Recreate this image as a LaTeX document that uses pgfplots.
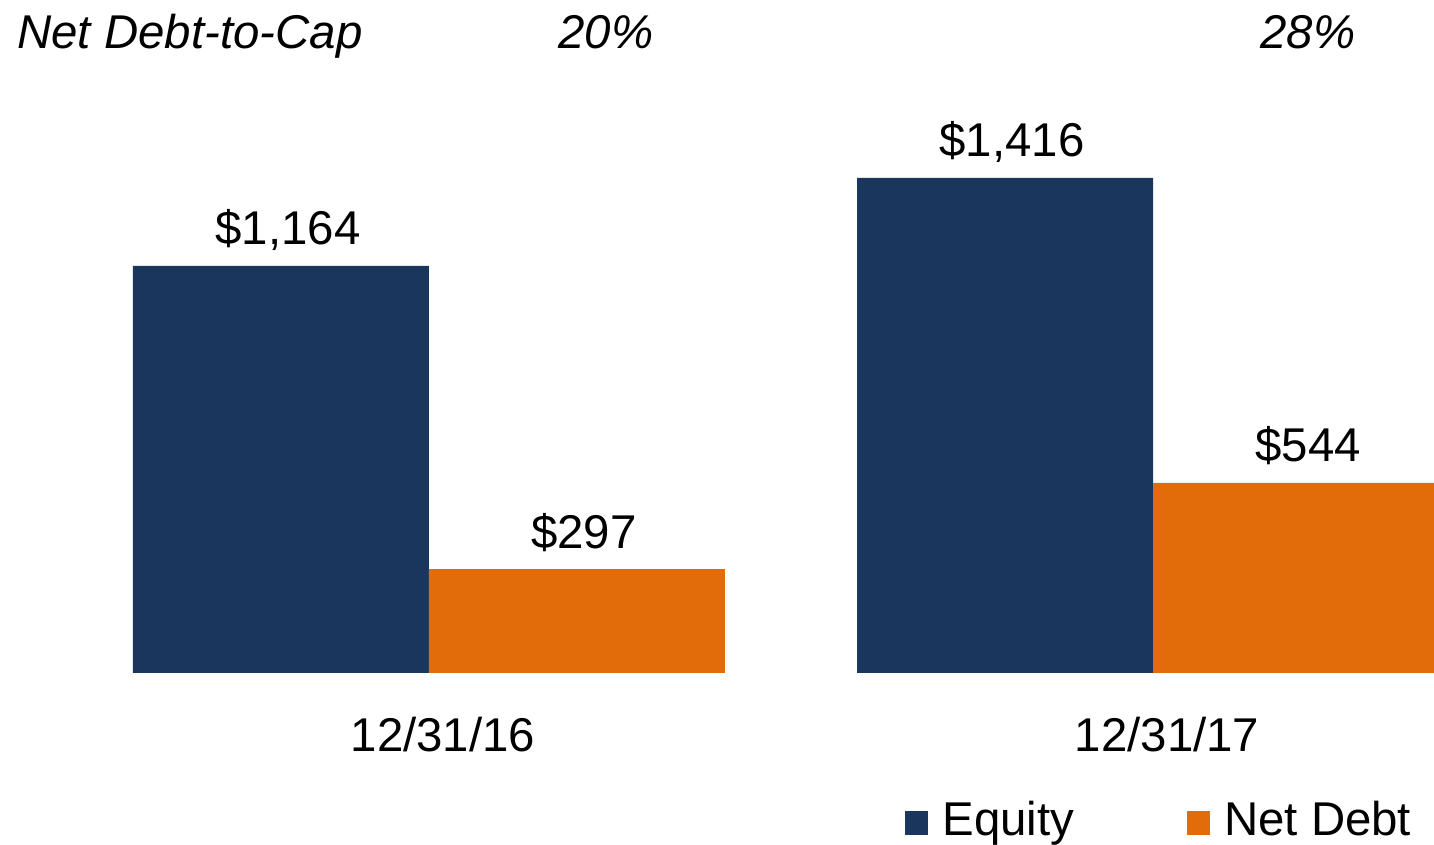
\documentclass[border=0pt]{standalone}
\usepackage{pgfplots}
\pgfplotsset{compat=1.18}
\usepackage{fontspec}
\setmainfont{Liberation Sans}
\definecolor{navy}{HTML}{1A365D}
\definecolor{orng}{HTML}{E36C0A}
\newcommand{\bigf}{\fontsize{23.7}{28}\selectfont}
\begin{document}
\begin{tikzpicture}
\begin{axis}[
  scale only axis,
  width=717pt, height=336.5pt,
  xmin=-0.5925, xmax=1.3881,
  ymin=0, ymax=1924.5,
  axis line style={draw=none},
  major tick length=0pt,
  ytick=\empty,
  xtick={0,1},
  xticklabels={12/31/16,12/31/17},
  xticklabel style={font=\bigf, anchor=base, yshift=-39.5pt, xshift=7pt, inner sep=0pt},
  /pgf/number format/.cd, 1000 sep={,}, assume math mode=true, /pgfplots/.cd,
  nodes near coords={\$\pgfmathprintnumber{\pgfplotspointmeta}},
  every node near coord/.append style={font=\bigf, anchor=base, yshift=10.5pt, xshift=3.5pt, inner sep=0pt, text=black},
  bar width=148pt,
  legend columns=2,
  legend image code/.code={\fill[#1] (0pt,0.5pt) rectangle (11.5pt,12.5pt);},
  legend style={at={(rel axis cs:0.6311,-0.1902)}, anchor=north west, draw=none, fill=none,
    inner sep=0pt, font=\bigf, nodes={inner sep=0pt, anchor=base west},
    /tikz/every odd column/.append style={column sep=7pt},
    /tikz/every even column/.append style={column sep=56.5pt}},
]
\addplot[ybar, bar shift=-74pt, fill=navy, draw=none,
  every node near coord/.append style={xshift=-74pt}] coordinates {(0,1164) (1,1416)};
\addlegendentry{Equity}
\addplot[ybar, bar shift=74pt, fill=orng, draw=none,
  every node near coord/.append style={xshift=74pt}] coordinates {(0,297) (1,544)};
\addlegendentry{Net Debt}
\draw[gray!60, line width=1.2pt] ([yshift=-0.6pt]axis cs:-0.4088,0) -- ([yshift=-0.6pt]axis cs:1.3881,0);
\node[font=\bigf\itshape, anchor=base west, inner sep=0pt] at (axis cs:-0.5691,1787) {Net Debt-to-Cap};
\node[font=\bigf\itshape, anchor=base, inner sep=0pt] at (axis cs:0.2445,1787) {20\%};
\node[font=\bigf\itshape, anchor=base, inner sep=0pt] at (axis cs:1.2141,1787) {28\%};
\end{axis}
\pgfresetboundingbox
\path[use as bounding box] (current axis.north west) rectangle ++(717pt,-422.5pt);
\end{tikzpicture}
\end{document}
